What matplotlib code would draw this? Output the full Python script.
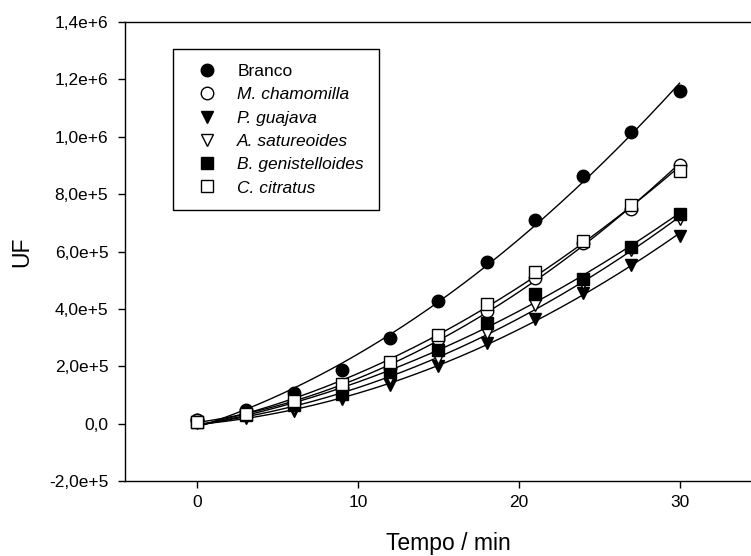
import matplotlib
matplotlib.use("Agg")
import matplotlib.pyplot as plt
from matplotlib.ticker import FuncFormatter
import numpy as np

plt.rcParams['font.family'] = ['Liberation Sans', 'DejaVu Sans']

# tempo (min)
tempo = [0, 3, 6, 9, 12, 15, 18, 21, 24, 27, 30]

# UF
branco = [12000, 48000, 106000, 186000, 298000, 428000, 562000, 710000, 862000, 1015000, 1160000]
chamomilla = [12000, 35000, 75000, 125000, 195000, 295000, 393000, 508000, 629000, 749000, 903000]
guajava = [2000, 20000, 45000, 85000, 134000, 200000, 280000, 365000, 455000, 554000, 655000]
satureoides = [4000, 25000, 55000, 100000, 160000, 228000, 316000, 414000, 490000, 605000, 715000]
genistelloides = [5000, 30000, 65000, 105000, 180000, 256000, 350000, 452000, 505000, 615000, 731000]
citratus = [6000, 35000, 80000, 137000, 215000, 309000, 418000, 527000, 637000, 761000, 882000]

series = [
    ("Branco", branco, 'o', 'black', 9),
    ("M. chamomilla", chamomilla, 'o', 'white', 9),
    ("P. guajava", guajava, 'v', 'black', 9),
    ("A. satureoides", satureoides, 'v', 'white', 9),
    ("B. genistelloides", genistelloides, 's', 'black', 8),
    ("C. citratus", citratus, 's', 'white', 8),
]

fig = plt.figure(figsize=(7.51, 5.56), dpi=100)
ax = fig.add_axes([0.1664, 0.1349, 0.8456, 0.8255])

xs = np.linspace(0, 30, 200)
handles = []
for nome, y, mk, fc, ms in series:
    # curva ajustada (polinomio de 2o grau)
    c = np.polyfit(tempo, y, 2)
    ax.plot(xs, np.polyval(c, xs), color='black', lw=1, zorder=2)
    h, = ax.plot(tempo, y, linestyle='none', marker=mk, markersize=ms,
                 markerfacecolor=fc, markeredgecolor='black', markeredgewidth=1,
                 label=nome, zorder=3)
    handles.append(h)

ax.set_xlim(-4.5, 35)
ax.set_ylim(-2e5, 1.4e6)
ax.set_xticks([0, 10, 20, 30])
ax.set_yticks(np.arange(-2e5, 1.41e6, 2e5))


def fmt(v, pos):
    if abs(v) < 1:
        return "0,0"
    s = "%.1e" % v
    m, e = s.split('e')
    return m.replace('.', ',') + "e+" + str(int(e))


ax.yaxis.set_major_formatter(FuncFormatter(fmt))
ax.tick_params(direction='out', length=5, width=1, labelsize=12.5)
ax.tick_params(axis='x', pad=5)
ax.tick_params(axis='y', pad=7)
ax.spines['right'].set_visible(False)
for s in ['left', 'bottom', 'top']:
    ax.spines[s].set_linewidth(1)

ax.set_xlabel("Tempo / min", fontsize=16.5)
ax.xaxis.set_label_coords(0.509, -0.1514)
ax.xaxis.label.set_va('baseline')
ax.set_ylabel("UF", fontsize=16.5)
ax.yaxis.set_label_coords(-0.162, 0.5)
ax.yaxis.label.set_va('center')

leg = ax.legend(handles=handles, loc='upper left', bbox_to_anchor=(0.0756, 0.941),
                borderaxespad=0, fancybox=False, edgecolor='black', framealpha=1,
                fontsize=12.5, handletextpad=0.65, labelspacing=0.47,
                borderpad=0.85, handlelength=2.2)
leg.get_frame().set_linewidth(1)
for t in leg.get_texts()[1:]:
    t.set_fontstyle('italic')

fig.savefig("out.png", dpi=100)
